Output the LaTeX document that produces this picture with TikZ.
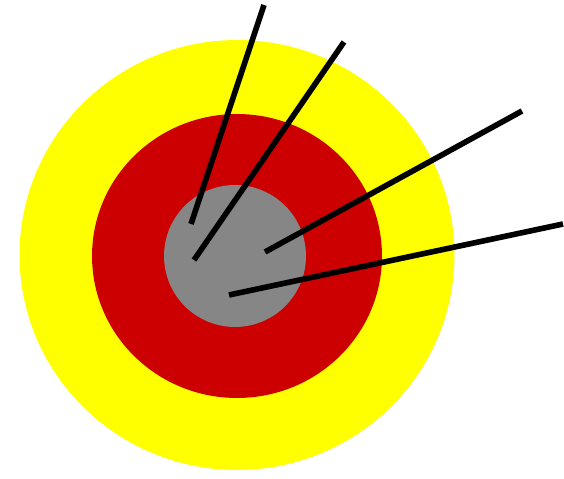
\documentclass[tikz,border=0pt]{standalone}
\definecolor{outeryellow}{RGB}{255,255,0}
\definecolor{middlered}{RGB}{204,0,0}
\definecolor{coregray}{RGB}{134,134,134}
\begin{document}
\begin{tikzpicture}[x=0.02cm, y=-0.02cm, wire/.style={line width=3.2pt, black}]
            \useasboundingbox (0,0) rectangle (564,479);

            \fill[outeryellow] (237,255) ellipse [x radius=4.35cm, y radius=4.3cm];
            \fill[middlered] (237,256) ellipse [x radius=2.9cm, y radius=2.84cm];
            \fill[coregray] (235,256) circle [radius=1.42cm];

            \coordinate (in1) at (191,224);
            \coordinate (out1) at (264,5);
            \coordinate (in2) at (194,260);
            \coordinate (out2) at (344,42);
            \coordinate (in3) at (265,252);
            \coordinate (out3) at (522,111);
            \coordinate (in4) at (229,295);
            \coordinate (out4) at (563,224);

            \draw[wire] (in1) -- (out1);
            \draw[wire] (in2) -- (out2);
            \draw[wire] (in3) -- (out3);
            \draw[wire] (in4) -- (out4);
        \end{tikzpicture}
\end{document}
